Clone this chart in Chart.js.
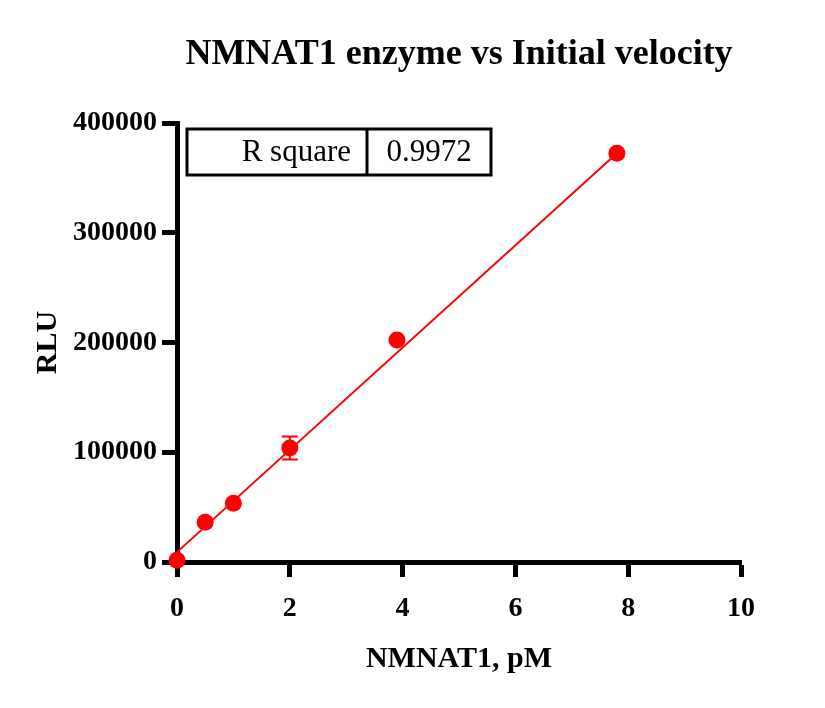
<!DOCTYPE html>
<html>
<head>
<meta charset="utf-8">
<script src="https://cdn.jsdelivr.net/npm/chart.js@4/dist/chart.umd.min.js"></script>
<style>
  html, body { margin: 0; padding: 0; background: #fff; }
  #wrap { width: 825px; height: 708px; }
</style>
</head>
<body>
<div id="wrap"><canvas id="rluChart" width="825" height="708"></canvas></div>
<script>
// values
const concPM = [0, 0.5, 1, 2, 3.9, 7.8];
const rlu = [1500, 36200, 53500, 103900, 202300, 372400];
const rluErr = [0, 0, 0, 10500, 0, 0];
const fitX = [0, 7.8];
const fitY = [9000, 372500];
const xTicks = [0, 2, 4, 6, 8, 10];
const yTicks = [0, 100000, 200000, 300000, 400000];
const rSquare = '0.9972';

const serif = "'Liberation Serif', 'Times New Roman', serif";
Chart.defaults.font.family = serif;
Chart.defaults.color = '#000';

// title centred over the plot area
const titlePlugin = {
    id: 'plotTitle',
    afterDraw(chart) {
        const { ctx, chartArea } = chart;
        ctx.save();
        ctx.font = 'bold 36px ' + serif;
        ctx.fillStyle = '#000';
        ctx.textAlign = 'center';
        ctx.textBaseline = 'middle';
        ctx.fillText('NMNAT1 enzyme vs Initial velocity', (chartArea.left + chartArea.right) / 2, 55);
        ctx.restore();
    }
};

// error bars from rluErr, drawn through the scales
const errorBars = {
    id: 'errorBars',
    beforeDatasetsDraw(chart) {
        const { ctx, scales } = chart;
        ctx.save();
        ctx.strokeStyle = '#ff0000';
        ctx.lineWidth = 2;
        concPM.forEach(function (x, i) {
            if (!rluErr[i]) return;
            const px = scales.x.getPixelForValue(x);
            const top = scales.y.getPixelForValue(rlu[i] + rluErr[i]);
            const bot = scales.y.getPixelForValue(rlu[i] - rluErr[i]);
            ctx.beginPath();
            ctx.moveTo(px, top); ctx.lineTo(px, bot);
            ctx.moveTo(px - 8, top); ctx.lineTo(px + 8, top);
            ctx.moveTo(px - 8, bot); ctx.lineTo(px + 8, bot);
            ctx.stroke();
        });
        ctx.restore();
    }
};

// the R square table in the top-left of the plot
const rTable = {
    id: 'rTable',
    afterDraw(chart) {
        const { ctx, chartArea } = chart;
        const left = chartArea.left + 10, top = chartArea.top + 6;
        const w = 304, h = 46, split = 180;
        ctx.save();
        ctx.strokeStyle = '#000';
        ctx.lineWidth = 3;
        ctx.strokeRect(left, top, w, h);
        ctx.beginPath();
        ctx.moveTo(left + split, top);
        ctx.lineTo(left + split, top + h);
        ctx.stroke();
        ctx.font = '31px ' + serif;
        ctx.fillStyle = '#000';
        ctx.textBaseline = 'middle';
        ctx.textAlign = 'right';
        ctx.fillText('R square', left + split - 16, top + h / 2 + 1);
        ctx.textAlign = 'center';
        ctx.fillText(rSquare, left + split + (w - split) / 2, top + h / 2 + 1);
        ctx.restore();
    }
};

const ctx = document.getElementById('rluChart').getContext('2d');
const chart = new Chart(ctx, {
    type: 'scatter',
    data: {
        datasets: [{
            label: 'NMNAT1',
            data: concPM.map((x, i) => ({ x: x, y: rlu[i] })),
            backgroundColor: '#ff0000',
            borderColor: '#ff0000',
            pointRadius: 8.5,
            pointHoverRadius: 8.5,
            borderWidth: 0,
            clip: false,
            order: 0
        }, {
            type: 'line',
            label: 'fit',
            data: fitX.map((x, i) => ({ x: x, y: fitY[i] })),
            borderColor: '#ff0000',
            borderWidth: 2,
            pointRadius: 0,
            fill: false,
            clip: false,
            order: 1
        }]
    },
    options: {
        responsive: false,
        animation: false,
        events: [],
        layout: { padding: { top: 123, right: 84, bottom: 0, left: 0 } },
        plugins: {
            legend: { display: false },
            tooltip: { enabled: false }
        },
        scales: {
            x: {
                type: 'linear',
                min: 0,
                max: 10,
                afterFit(scale) { scale.height = 146; },
                afterBuildTicks(scale) { scale.ticks = xTicks.map(v => ({ value: v })); },
                border: { display: true, color: '#000', width: 5 },
                grid: { display: true, drawOnChartArea: false, tickLength: 15, tickWidth: 5, tickColor: '#000' },
                ticks: { font: { size: 28, weight: 'bold' }, padding: 15, maxRotation: 0, callback: v => String(v) },
                title: { display: true, text: 'NMNAT1, pM', font: { size: 30, weight: 'bold' }, padding: { top: 0, bottom: 31 } }
            },
            y: {
                type: 'linear',
                min: 0,
                max: 400000,
                afterFit(scale) { scale.width = 177; },
                afterBuildTicks(scale) { scale.ticks = yTicks.map(v => ({ value: v })); },
                border: { display: true, color: '#000', width: 5 },
                grid: { display: true, drawOnChartArea: false, tickLength: 15, tickWidth: 5, tickColor: '#000' },
                ticks: { font: { size: 28, weight: 'bold' }, padding: 5, callback: v => String(v) },
                title: { display: true, text: 'RLU', font: { size: 30, weight: 'bold' }, padding: { top: 30, bottom: 0 } }
            }
        }
    },
    plugins: [titlePlugin, errorBars, rTable]
});
</script>
</body>
</html>
